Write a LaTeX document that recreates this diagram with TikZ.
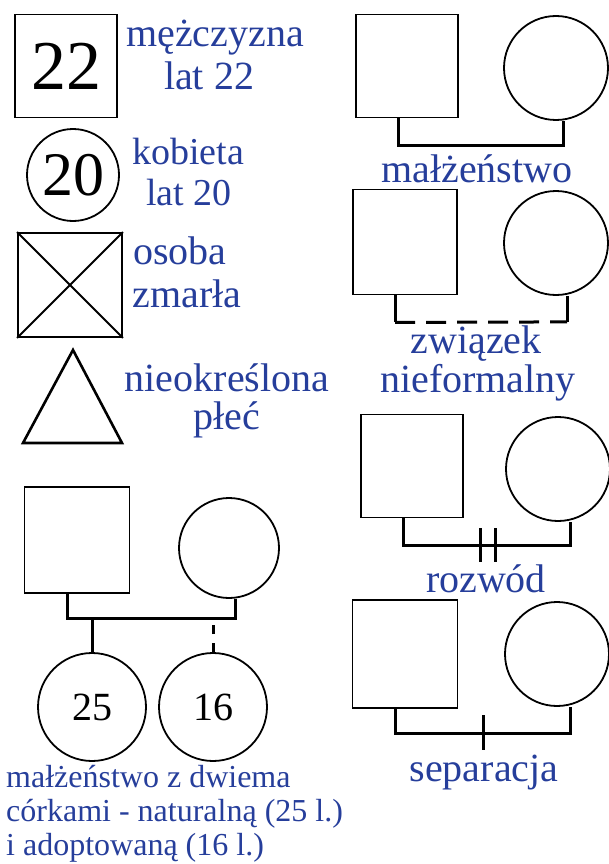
\documentclass[tikz,border=0pt]{standalone}
\usepackage{fontspec}
\setmainfont{Liberation Serif}
\definecolor{legblue}{RGB}{38,62,155}
\tikzset{
  kwadrat/.style={draw,line width=1.8pt,minimum width=102pt,minimum height=103pt,inner sep=0pt},
  kolo/.style={draw,circle,line width=1.8pt,minimum size=#1,inner sep=0pt},
  kolo/.default=104pt,
  wiez/.style={line width=3pt},
  opis/.style={text=legblue,anchor=base,inner sep=0pt,font=\fontsize{40}{44}\selectfont},
  opismaly/.style={text=legblue,anchor=base west,inner sep=0pt,font=\fontsize{32}{34}\selectfont},
}
\begin{document}
\begin{tikzpicture}[x=1pt,y=-1pt]
        \useasboundingbox (0,0) rectangle (608,864);
        % symbole
        \node[kwadrat,font=\fontsize{70}{70}\selectfont] (m22) at (66,66) {22};
        \node[kolo=92pt,font=\fontsize{62}{62}\selectfont] (k20) at (73,175) {20};
        \node[kwadrat,minimum width=104pt,minimum height=104pt] (zm) at (70,285) {};
        \draw[line width=1.8pt] (zm.north west) -- (zm.south east)
        (zm.north east) -- (zm.south west) ;
        \coordinate (tr) at (73,350) ;
        \draw[line width=2.6pt,line join=miter] (tr) -- (122,443) -- (23,443) -- cycle ;
        \node[opis] (t1) at (215,47) {mężczyzna};
        \node[opis] (t2) at (209,90) {lat 22};
        \node[opis,font=\fontsize{38}{41}\selectfont] (t3) at (188,164) {kobieta};
        \node[opis,font=\fontsize{38}{41}\selectfont] (t4) at (189,205) {lat 20};
        \node[opis] (t5) at (180,264) {osoba};
        \node[opis] (t6) at (187,307) {zmarła};
        \node[opis] (t7) at (227,391) {nieokreślona};
        \node[opis] (t8) at (227,429) {płeć};
        % rodzina z dziecmi
        \node[kwadrat,minimum width=105pt,minimum height=106pt] (oj) at (77,540) {};
        \node[kolo=100pt] (ma) at (229,548) {};
        \node[kolo=108pt,font=\fontsize{40}{40}\selectfont] (c25) at (92,707) {25};
        \node[kolo=108pt,font=\fontsize{40}{40}\selectfont] (c16) at (213,707) {16};
        \draw[wiez] ([xshift=-10pt]oj.south) -- ++(0,25) coordinate (r1) -| ([xshift=6pt]ma.south) ;
        \draw[wiez] (c25.north) -- (c25.north |- r1) ;
        \draw[wiez,dash pattern=on 9pt off 9pt] (c16.north) -- (c16.north |- r1) ;
        \node[opismaly] (t9) at (6,787) {małżeństwo z dwiema};
        \node[opismaly] (t10) at (6,821) {córkami - naturalną (25 l.)};
        \node[opismaly] (t11) at (6,855) {i adoptowaną (16 l.)};
        % zwiazki
        \node[kwadrat] (m1) at (407,66) {};
        \node[kolo] (k1) at (556,68) {};
        \draw[wiez] ([xshift=-9pt]m1.south) -- ++(0,27) -| ([xshift=7pt]k1.south) ;
        \node[opis] (t12) at (477,182) {małżeństwo};
        \node[kwadrat,minimum width=104pt,minimum height=105pt] (m2) at (405,242) {};
        \node[kolo] (k2) at (556,243) {};
        \draw[wiez] ([xshift=-10pt]m2.south) -- ++(0,27) coordinate (d1) ;
        \draw[wiez] ([xshift=11pt]k2.south) -- ++(0,26) coordinate (d2) ;
        \draw[wiez,dash pattern=on 20pt off 11pt] (d1) -- (d2) ;
        \node[opis] (t13) at (476,353) {związek};
        \node[opis] (t14) at (478,392) {nieformalny};
        \node[kwadrat] (m3) at (412,466) {};
        \node[kolo] (k3) at (558,469) {};
        \draw[wiez] ([xshift=-9pt]m3.south) -- ++(0,27) -| ([xshift=12pt]k3.south) ;
        \draw[wiez] (480,528) -- (480,562) (495,528) -- (495,562) ;
        \node[opis] (t15) at (486,592) {rozwód};
        \node[kwadrat,minimum width=105pt,minimum height=108pt] (m4) at (405,654) {};
        \node[kolo] (k4) at (557,654) {};
        \draw[wiez] ([xshift=-10pt]m4.south) -- ++(0,25) -| ([xshift=13pt]k4.south) ;
        \draw[wiez] (483,715) -- (483,750) ;
        \node[opis] (t16) at (484,781) {separacja};
      \end{tikzpicture}
\end{document}
